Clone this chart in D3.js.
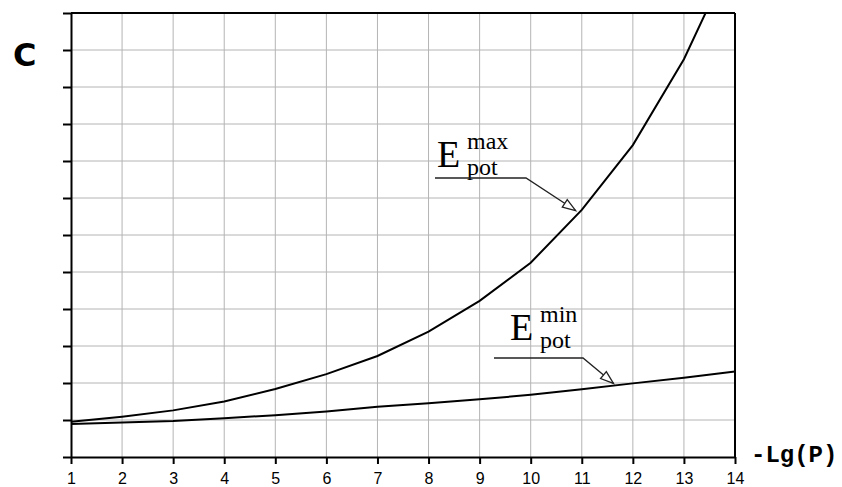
<!DOCTYPE html>
<html>
<head>
<meta charset="utf-8">
<script src="https://cdn.jsdelivr.net/npm/d3@7/dist/d3.min.js"></script>
<style>
  body { margin: 0; background: #fff; }
  svg { display: block; }
</style>
</head>
<body>
<div id="chart"></div>
<script>
// -Lg(P) values along the x axis
const xTicks = [1, 2, 3, 4, 5, 6, 7, 8, 9, 10, 11, 12, 13, 14];
// y grid lines (no labels on the original)
const yTicks = [0, 1, 2, 3, 4, 5, 6, 7, 8, 9, 10, 11, 12];

// E_pot^max (grid units)
const eMax = [0.95, 1.09, 1.26, 1.5, 1.84, 2.24, 2.73, 3.39, 4.22, 5.25, 6.68, 8.43, 10.75, 13.7];
// E_pot^min
const eMin = [0.89, 0.93, 0.97, 1.05, 1.13, 1.23, 1.36, 1.45, 1.56, 1.68, 1.83, 1.99, 2.14, 2.31];

const width = 842, height = 487;
const svg = d3.select(`#chart`).append(`svg`)
    .attr(`width`, width)
    .attr(`height`, height);

const x = d3.scaleLinear().domain([1, 14]).range([71, 735]);
const y = d3.scaleLinear().domain([0, 12]).range([457, 13]);

// grid
svg.append(`g`).selectAll(`line`)
    .data(xTicks.slice(1, -1))
    .enter().append(`line`)
    .attr(`x1`, d => x(d)).attr(`x2`, d => x(d))
    .attr(`y1`, y(0)).attr(`y2`, y(12))
    .attr(`stroke`, `#b4b4b4`).attr(`stroke-width`, 1);

svg.append(`g`).selectAll(`line`)
    .data(yTicks.slice(1, -1))
    .enter().append(`line`)
    .attr(`x1`, x(1)).attr(`x2`, x(14))
    .attr(`y1`, d => y(d)).attr(`y2`, d => y(d))
    .attr(`stroke`, `#b4b4b4`).attr(`stroke-width`, 1);

// axes
const xAxis = svg.append(`g`)
    .attr(`transform`, `translate(0,${y(0)})`)
    .call(d3.axisBottom(x).tickValues(xTicks).tickSize(7).tickPadding(9).tickSizeOuter(0));
xAxis.select(`.domain`).attr(`stroke-width`, 2);
xAxis.selectAll(`.tick line`).attr(`stroke-width`, 2);
xAxis.selectAll(`.tick text`)
    .style(`font-family`, `"Liberation Sans", Arial, sans-serif`)
    .style(`font-size`, `16px`)
    .attr(`fill`, `#000`);

const yAxis = svg.append(`g`)
    .attr(`transform`, `translate(${x(1)},0)`)
    .call(d3.axisLeft(y).tickValues(yTicks).tickSize(8).tickFormat(``).tickSizeOuter(0));
yAxis.select(`.domain`).attr(`stroke-width`, 2);
yAxis.selectAll(`.tick line`).attr(`stroke-width`, 2);

// right and top frame
svg.append(`line`)
    .attr(`x1`, x(14)).attr(`x2`, x(14))
    .attr(`y1`, y(0)).attr(`y2`, y(12))
    .attr(`stroke`, `#000`).attr(`stroke-width`, 2);
svg.append(`line`)
    .attr(`x1`, x(1)).attr(`x2`, x(14))
    .attr(`y1`, y(12)).attr(`y2`, y(12))
    .attr(`stroke`, `#000`).attr(`stroke-width`, 2);

// curves
svg.append(`clipPath`).attr(`id`, `plot`)
    .append(`rect`)
    .attr(`x`, x(1)).attr(`y`, y(12))
    .attr(`width`, x(14) - x(1)).attr(`height`, y(0) - y(12));

const line = d3.line()
    .x((d, i) => x(xTicks[i]))
    .y(d => y(d));

[eMax, eMin].forEach(series => {
    svg.append(`path`)
        .datum(series)
        .attr(`clip-path`, `url(#plot)`)
        .attr(`fill`, `none`)
        .attr(`stroke`, `#000`)
        .attr(`stroke-width`, 2)
        .attr(`d`, line);
});

// annotations
function label(px, py, sup, lineTo, tip) {
    const g = svg.append(`g`).style(`font-family`, `"Liberation Serif", "Times New Roman", serif`).attr(`fill`, `#000`);
    g.append(`text`).attr(`x`, px).attr(`y`, py).style(`font-size`, `38px`).text(`E`);
    g.append(`text`).attr(`x`, px + 30).attr(`y`, py - 18).style(`font-size`, `24px`).text(sup);
    g.append(`text`).attr(`x`, px + 30).attr(`y`, py + 8).style(`font-size`, `24px`).text(`pot`);

    svg.append(`polyline`)
        .attr(`points`, `${lineTo[0]},${lineTo[2]} ${lineTo[1]},${lineTo[2]} ${tip[0]},${tip[1]}`)
        .attr(`fill`, `none`).attr(`stroke`, `#222`).attr(`stroke-width`, 1.3);

    // open arrow head
    const ang = Math.atan2(tip[1] - lineTo[2], tip[0] - lineTo[1]);
    const len = 13, half = 4.5;
    const bx = tip[0] - len * Math.cos(ang), by = tip[1] - len * Math.sin(ang);
    const px1 = bx + half * Math.sin(ang), py1 = by - half * Math.cos(ang);
    const px2 = bx - half * Math.sin(ang), py2 = by + half * Math.cos(ang);
    svg.append(`polygon`)
        .attr(`points`, `${tip[0]},${tip[1]} ${px1},${py1} ${px2},${py2}`)
        .attr(`fill`, `#fff`).attr(`stroke`, `#222`).attr(`stroke-width`, 1.3);
}

label(437, 167, `max`, [435, 526, 178], [x(10.88), y(6.66)]);
label(510, 340, `min`, [494, 583, 358], [x(11.62), y(1.99)]);

// axis titles
svg.append(`text`)
    .attr(`x`, 13).attr(`y`, 66)
    .style(`font-family`, `"DejaVu Sans", sans-serif`)
    .style(`font-weight`, `bold`)
    .style(`font-size`, `32px`)
    .text(`C`);

svg.append(`text`)
    .attr(`x`, 751).attr(`y`, 462)
    .style(`font-family`, `"Liberation Mono", "Courier New", monospace`)
    .style(`font-weight`, `bold`)
    .style(`font-size`, `24px`)
    .text(`-Lg(P)`);
</script>
</body>
</html>
